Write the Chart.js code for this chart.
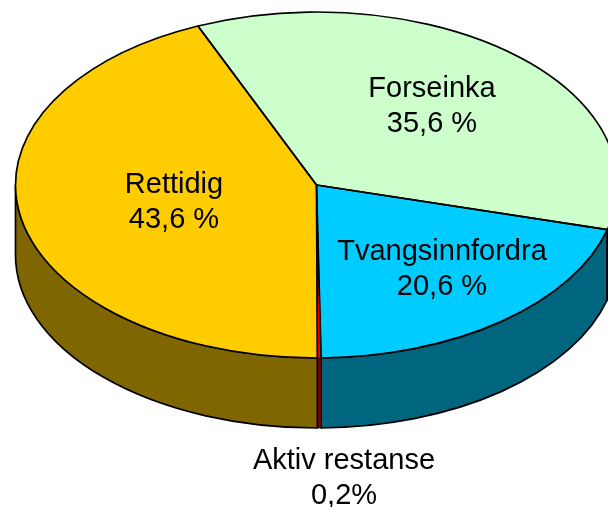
<!DOCTYPE html>
<html>
<head>
<meta charset="utf-8">
<style>
html,body{margin:0;padding:0;background:#fff;overflow:hidden}
canvas{display:block}
</style>
<script src="https://cdn.jsdelivr.net/npm/chart.js@4/dist/chart.umd.js"></script>
</head>
<body>
<canvas id="c" width="609" height="507"></canvas>
<script>
const categories = ["Forseinka", "Tvangsinnfordra", "Aktiv restanse", "Rettidig"];
const values = [35.6, 20.6, 0.2, 43.6];
const valueLabels = ["35,6 %", "20,6 %", "0,2%", "43,6 %"];
const topColors = ["#CCFFCC", "#00CCFF", "#FF0000", "#FFCC00"];
const wallColors = ["#668066", "#006680", "#800000", "#806600"];

const startRotation = -23.2;
const radiusX = 301, depth = 70, rightEdge = 608;
const labelAnchors = [[432, 97], [442, 260], [344, 469], [174, 193]];
const labelFont = '29px "Liberation Sans", Arial, sans-serif';

function edgeWidth(arc) {
  return arc.endAngle - arc.startAngle < 0.05 ? 0.6 : 1.7;
}

const pie3d = {
  id: "pie3d",
  beforeDatasetsDraw(chart) {
    const ctx = chart.ctx, arcs = chart.getDatasetMeta(0).data;
    const { x: cx, y: cy, outerRadius: ry } = arcs[0];
    ctx.save();
    ctx.beginPath();
    ctx.rect(0, 0, rightEdge, chart.height);
    ctx.clip();
    ctx.strokeStyle = "#000";
    ctx.lineJoin = "round";
    arcs.forEach((arc, i) => {
      for (const k of [-2, 0, 2]) {
        const a = Math.max(arc.startAngle + k * Math.PI, 0);
        const b = Math.min(arc.endAngle + k * Math.PI, Math.PI);
        if (b <= a) continue;
        ctx.beginPath();
        ctx.ellipse(cx, cy, radiusX, ry, 0, a, b);
        ctx.ellipse(cx, cy + depth, radiusX, ry, 0, b, a, true);
        ctx.closePath();
        ctx.fillStyle = wallColors[i];
        ctx.fill();
        ctx.lineWidth = edgeWidth(arc);
        ctx.stroke();
      }
    });
    ctx.translate(cx, 0);
    ctx.scale(radiusX / ry, 1);
    ctx.translate(-cx, 0);
  },
  afterDatasetsDraw(chart) {
    const ctx = chart.ctx, arcs = chart.getDatasetMeta(0).data;
    const { x: cx, y: cy, outerRadius: ry } = arcs[0];
    ctx.restore();
    ctx.save();
    ctx.beginPath();
    ctx.rect(0, 0, rightEdge, chart.height);
    ctx.clip();
    ctx.strokeStyle = "#000";
    ctx.lineJoin = "round";
    arcs.forEach(arc => {
      ctx.lineWidth = edgeWidth(arc);
      ctx.beginPath();
      ctx.moveTo(cx, cy);
      ctx.ellipse(cx, cy, radiusX, ry, 0, arc.startAngle, arc.endAngle);
      ctx.closePath();
      ctx.stroke();
    });
    ctx.lineWidth = 1.7;
    const yAtEdge = ry * Math.sqrt(1 - Math.pow((rightEdge - 1 - cx) / radiusX, 2));
    ctx.beginPath();
    ctx.moveTo(rightEdge - 0.8, cy + yAtEdge);
    ctx.lineTo(rightEdge - 0.8, cy + yAtEdge + depth);
    ctx.stroke();
    ctx.restore();
    ctx.font = labelFont;
    ctx.fillStyle = "#000";
    ctx.textAlign = "center";
    ctx.textBaseline = "alphabetic";
    categories.forEach((name, i) => {
      const [x, y] = labelAnchors[i];
      ctx.fillText(name, x, y);
      ctx.fillText(valueLabels[i], x, y + 35);
    });
  }
};

new Chart(document.getElementById("c"), {
  type: "pie",
  data: {
    labels: categories,
    datasets: [{
      data: values,
      backgroundColor: topColors,
      borderWidth: 0,
      hoverOffset: 0,
      clip: false
    }]
  },
  options: {
    responsive: false,
    animation: false,
    rotation: startRotation,
    layout: { padding: { left: 24, right: 0, top: 12, bottom: 149 } },
    plugins: { legend: { display: false }, tooltip: { enabled: false } }
  },
  plugins: [pie3d]
});
</script>
</body>
</html>
